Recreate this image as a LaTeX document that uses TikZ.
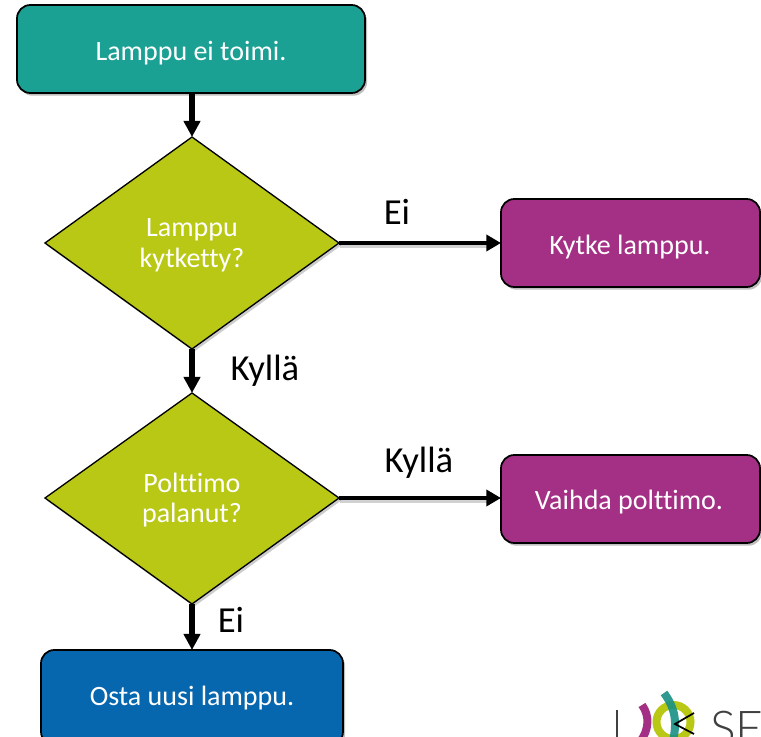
\documentclass[tikz,border=0pt]{standalone}
\usepackage{fontspec}
\setmainfont[Ligatures=NoCommon]{Carlito}
\usetikzlibrary{arrows.meta,shadows,calc}
\definecolor{teal1}{HTML}{1BA094}
\definecolor{olive1}{HTML}{B9C815}
\definecolor{purple1}{HTML}{A43085}
\definecolor{blue1}{HTML}{0767AE}
\tikzset{
  x=0.75pt,y=-0.75pt,
  flat/.style={draw=black,line width=1.3pt,rounded corners=10pt,
    drop shadow={shadow xshift=1.5pt,shadow yshift=-2pt,fill=black,opacity=.25}},
  dia/.style={draw=black,line width=1pt,fill=olive1,drop shadow={shadow xshift=1.5pt,shadow yshift=-2pt,fill=black,opacity=.2}},
  txt/.style={text=white,font=\fontsize{21}{23}\selectfont,align=center,inner sep=0pt},
  lab/.style={text=black,font=\fontsize{27.5}{32}\selectfont,inner sep=0pt},
  conn/.style={draw=black,line width=4.3pt,-{Triangle[length=12pt,width=12pt]}},
  hconn/.style={draw=black,line width=3.3pt,-{Triangle[length=11pt,width=12pt]}},
  sh/.style={draw=black,opacity=.18,line width=3.3pt},
}
\begin{document}
\begin{tikzpicture}
\useasboundingbox (0,0) rectangle (761,737);
\clip (0,0) rectangle (761,737);
\fill[white] (0,0) rectangle (761,737);
% boxes
\path[flat,fill=teal1] (17,5) rectangle (365,93);
\node[txt] (a) at (191,53) {Lamppu ei toimi.};
\coordinate (aS) at (192,93);
\path[dia] (192,137) -- (339,243) -- (192,349) -- (45,243) -- cycle;
\node[txt] (b) at (192,245) {Lamppu\\kytketty?};
\coordinate (bN) at (192,137); \coordinate (bS) at (192,349); \coordinate (bE) at (339,243);
\path[dia] (192,393) -- (339,498) -- (192,604) -- (45,498) -- cycle;
\node[txt] (c) at (192,500) {Polttimo\\palanut?};
\coordinate (cN) at (192,393); \coordinate (cS) at (192,604); \coordinate (cE) at (339,498);
\path[flat,fill=purple1] (501,199) rectangle (760,287);
\node[txt] (d) at (630,247) {Kytke lamppu.};
\coordinate (dW) at (501,243);
\path[flat,fill=purple1] (501,455) rectangle (760,543);
\node[txt] (e) at (629,502) {Vaihda polttimo.};
\coordinate (eW) at (501,498);
\path[flat,fill=blue1] (41,650) rectangle (343,745);
\node[txt] (f) at (192,698) {Osta uusi lamppu.};
\coordinate (fN) at (192,650);
% connector shadows
\draw[sh] ([shift={(1,3)}]bE) -- ([shift={(-14,3)}]dW);
\draw[sh] ([shift={(1,3)}]cE) -- ([shift={(-14,3)}]eW);
% connectors
\draw[conn] (aS) -- (bN);
\draw[conn] (bS) -- (cN);
\draw[conn] (cS) -- (fN);
\draw[hconn] (bE) -- (dW);
\draw[hconn] (cE) -- (eW);
% labels
\node[lab] (l1) at (397,212) {Ei};
\node[lab] (l2) at (265,371) {Kyllä};
\node[lab] (l3) at (419,463) {Kyllä};
\node[lab] (l4) at (231,620) {Ei};
% logo
\draw[black!75,line width=1.4pt] (617,710) -- (617,745);
\draw[purple1,line width=6pt] (642,705) .. controls (650,716) and (649,730) .. (640,742);
\draw[olive1,line width=6pt] (673.5,722) circle (17);
\draw[teal1!90!black,opacity=.9,line width=6pt] (664,693) .. controls (675,708) and (678,722) .. (672,745);
\draw[black,line width=1.3pt] (694,713) -- (675,724) -- (694,734);
\node[anchor=base west,inner sep=0pt,text=black!75,font=\fontspec{Lato Light}\fontsize{36}{36}\selectfont] (g) at (710,745) {SE};
\end{tikzpicture}
\end{document}
